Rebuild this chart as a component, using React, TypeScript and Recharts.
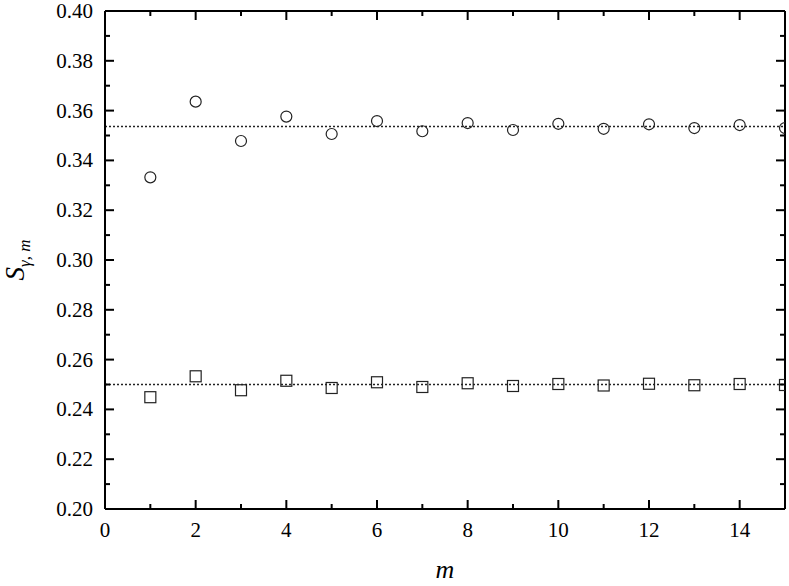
import React from "react";
import {
  ScatterChart,
  Scatter,
  XAxis,
  YAxis,
  ReferenceLine,
} from "recharts";

// m = 1..15
const mValues = [1, 2, 3, 4, 5, 6, 7, 8, 9, 10, 11, 12, 13, 14, 15];
const circleValues = [
  0.3332, 0.3636, 0.3478, 0.3576, 0.3506, 0.3558, 0.3517, 0.355, 0.3522,
  0.3547, 0.3527, 0.3545, 0.353, 0.3542, 0.353,
];
const squareValues = [
  0.2449, 0.2533, 0.2477, 0.2515, 0.2486, 0.2509, 0.249, 0.2505, 0.2494,
  0.2502, 0.2496, 0.2503, 0.2497, 0.2502, 0.2498,
];
const circleLimit = 0.3536;
const squareLimit = 0.25;

const xTicks = [0, 1, 2, 3, 4, 5, 6, 7, 8, 9, 10, 11, 12, 13, 14, 15];
const yTicks = [
  0.2, 0.21, 0.22, 0.23, 0.24, 0.25, 0.26, 0.27, 0.28, 0.29, 0.3, 0.31, 0.32,
  0.33, 0.34, 0.35, 0.36, 0.37, 0.38, 0.39, 0.4,
];

const circles = mValues.map((m, i) => ({ m, s: circleValues[i] }));
const squares = mValues.map((m, i) => ({ m, s: squareValues[i] }));

const FONT = "'Liberation Serif', 'DejaVu Serif', serif";
const MAJOR = 9;
const MINOR = 5;

const isMajorX = (v: number) => Math.round(v) % 2 === 0;
const isMajorY = (v: number) => Math.round(v * 100) % 2 === 0;

const LeftTick = (props: any) => {
  const { x, y, payload } = props;
  const major = isMajorY(payload.value);
  return (
    <g>
      <line x1={x} x2={x + (major ? MAJOR : MINOR)} y1={y} y2={y} stroke="#000" strokeWidth={2} />
      {major && (
        <text x={x - 12} y={y} dy={7} textAnchor="end" fontFamily={FONT} fontSize={21} fill="#000">
          {Number(payload.value).toFixed(2)}
        </text>
      )}
    </g>
  );
};

const RightTick = (props: any) => {
  const { x, y, payload } = props;
  const major = isMajorY(payload.value);
  return (
    <line x1={x} x2={x - (major ? MAJOR : MINOR)} y1={y} y2={y} stroke="#000" strokeWidth={2} />
  );
};

const BottomTick = (props: any) => {
  const { x, y, payload } = props;
  const major = isMajorX(payload.value);
  return (
    <g>
      <line x1={x} x2={x} y1={y} y2={y - (major ? MAJOR : MINOR)} stroke="#000" strokeWidth={2} />
      {major && (
        <text x={x} y={y + 28} textAnchor="middle" fontFamily={FONT} fontSize={21} fill="#000">
          {payload.value}
        </text>
      )}
    </g>
  );
};

const TopTick = (props: any) => {
  const { x, y, payload } = props;
  const major = isMajorX(payload.value);
  return (
    <line x1={x} x2={x} y1={y} y2={y + (major ? MAJOR : MINOR)} stroke="#000" strokeWidth={2} />
  );
};

const circleShape = (p: any) => (
  <circle cx={p.cx} cy={p.cy} r={5.5} fill="none" stroke="#222" strokeWidth={1.2} />
);
const squareShape = (p: any) => (
  <rect x={p.cx - 5.5} y={p.cy - 5.5} width={11} height={11} fill="none" stroke="#222" strokeWidth={1.2} />
);

const YLabel = (props: any) => {
  const vb = props.viewBox;
  const cy = vb.y + vb.height / 2;
  return (
    <text
      transform={`translate(24, ${cy}) rotate(-90)`}
      textAnchor="middle"
      fontFamily={FONT}
      fontStyle="italic"
      fontSize={27}
      fill="#000"
    >
      <tspan>S</tspan>
      <tspan fontSize={17} dy={6}>γ, m</tspan>
    </text>
  );
};

const XLabel = (props: any) => {
  const vb = props.viewBox;
  return (
    <text
      x={vb.x + vb.width / 2}
      y={578}
      textAnchor="middle"
      fontFamily={FONT}
      fontStyle="italic"
      fontSize={26}
      fill="#000"
    >
      m
    </text>
  );
};

export default function App() {
  return (
    <div style={{ position: "absolute", left: 0, top: 0, background: "#fff", fontFamily: FONT }}>
      <ScatterChart
        width={789}
        height={586}
        margin={{ top: 1, right: 0, bottom: 0, left: 0 }}
      >
        <XAxis
          xAxisId="b"
          dataKey="m"
          type="number"
          domain={[0, 15]}
          ticks={xTicks}
          interval={0}
          allowDataOverflow
          height={77}
          tickSize={0}
          tickMargin={0}
          tick={BottomTick}
          axisLine={{ stroke: "#000", strokeWidth: 2 }}
          tickLine={false}
          label={XLabel}
        />
        <XAxis
          xAxisId="t"
          orientation="top"
          dataKey="m"
          type="number"
          domain={[0, 15]}
          ticks={xTicks}
          interval={0}
          allowDataOverflow
          height={10}
          tickSize={0}
          tickMargin={0}
          tick={TopTick}
          axisLine={{ stroke: "#000", strokeWidth: 2 }}
          tickLine={false}
        />
        <YAxis
          yAxisId="l"
          dataKey="s"
          type="number"
          domain={[0.2, 0.4]}
          ticks={yTicks}
          interval={0}
          allowDataOverflow
          width={105}
          tickSize={0}
          tickMargin={0}
          tick={LeftTick}
          axisLine={{ stroke: "#000", strokeWidth: 2 }}
          tickLine={false}
          label={YLabel}
        />
        <YAxis
          yAxisId="r"
          orientation="right"
          dataKey="s"
          type="number"
          domain={[0.2, 0.4]}
          ticks={yTicks}
          interval={0}
          allowDataOverflow
          width={4}
          tickSize={0}
          tickMargin={0}
          tick={RightTick}
          axisLine={{ stroke: "#000", strokeWidth: 2 }}
          tickLine={false}
        />
        <ReferenceLine xAxisId="b" yAxisId="l" y={circleLimit} stroke="#222" strokeWidth={1.5} strokeDasharray="2 2" />
        <ReferenceLine xAxisId="b" yAxisId="l" y={squareLimit} stroke="#222" strokeWidth={1.5} strokeDasharray="2 2" />
        <Scatter xAxisId="b" yAxisId="l" data={circles} shape={circleShape} isAnimationActive={false} />
        <Scatter xAxisId="b" yAxisId="l" data={squares} shape={squareShape} isAnimationActive={false} />
        <Scatter xAxisId="t" yAxisId="r" data={circles} shape={() => <g />} isAnimationActive={false} />
      </ScatterChart>
    </div>
  );
}
